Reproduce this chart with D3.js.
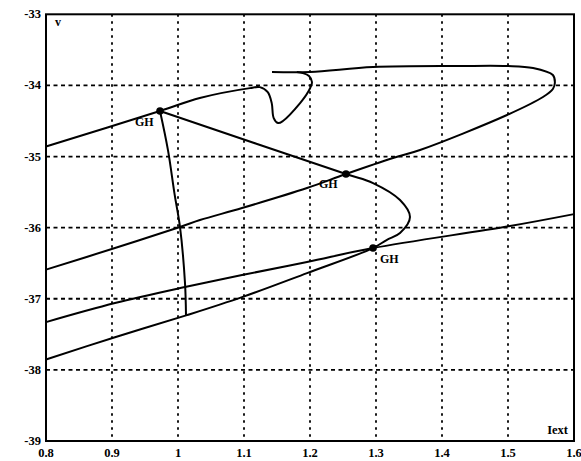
<!DOCTYPE html>
<html>
<head>
<meta charset="utf-8">
<script src="https://cdn.jsdelivr.net/npm/d3@7"></script>
<style>
  body { margin: 0; background: #fff; }
  svg text { font-family: "Liberation Serif", "DejaVu Serif", serif; font-weight: bold; fill: #000; }
</style>
</head>
<body>
<svg id="chart" width="581" height="461"></svg>
<script>
// axis ticks
const xTicks = [0.8, 0.9, 1, 1.1, 1.2, 1.3, 1.4, 1.5, 1.6];
const yTicks = [-33, -34, -35, -36, -37, -38, -39];

// branch through the left GH point, ending in the S-shaped curl
const branchS = [[0.8, -34.86], [0.9727, -34.36], [1.033, -34.177], [1.109, -34.038], [1.124, -34.024],
  [1.136, -34.094], [1.142, -34.249], [1.145, -34.46], [1.1515, -34.529], [1.159, -34.50],
  [1.185, -34.249], [1.197, -34.094], [1.203, -33.953], [1.1985, -33.868], [1.189, -33.826], [1.18, -33.812]];

// upper loop: top line, tip near 1.57, back down to the left edge
const branchTop = [[1.1424, -33.812], [1.2, -33.812], [1.2955, -33.742], [1.427, -33.727], [1.4985, -33.727],
  [1.5379, -33.755], [1.568, -33.854], [1.571, -33.966], [1.568, -34.05], [1.553, -34.163],
  [1.4985, -34.416], [1.3667, -34.908], [1.3258, -35.021], [1.2545, -35.246], [1.1955, -35.443],
  [1.097, -35.724], [1.0333, -35.893], [1.003, -35.99], [0.9045, -36.286], [0.8, -36.59]];

// GH -> GH -> nose -> GH -> left edge
const branchNose = [[0.9727, -34.36], [1.2545, -35.246], [1.2955, -35.373], [1.3364, -35.612],
  [1.3515, -35.851], [1.3364, -36.076], [1.316, -36.174], [1.2955, -36.287], [1.1955, -36.639],
  [1.097, -36.977], [1.0136, -37.23], [0.9045, -37.54], [0.8, -37.855]];

// long lower line through the right GH point
const branchLow = [[0.8, -37.328], [0.9045, -37.06], [1.0106, -36.835], [1.097, -36.666],
  [1.1955, -36.483], [1.2955, -36.287], [1.503, -35.977], [1.6, -35.81]];

// near vertical branch down from the left GH point
const branchVert = [[0.9727, -34.36], [0.9848, -34.91], [0.995, -35.54], [1.003, -35.99],
  [1.0106, -36.78], [1.0121, -37.23]];

const ghPoints = [[0.9727, -34.36], [1.2545, -35.246], [1.2955, -36.287]];
const ghLabelOffsets = [[-25, 15], [-27, 14], [7, 15]];

const svg = d3.select("#chart");
const m = { left: 46, right: 574, top: 14.3, bottom: 441 };

const x = d3.scaleLinear().domain([0.8, 1.6]).range([m.left, m.right]);
const y = d3.scaleLinear().domain([-39, -33]).range([m.bottom, m.top]);

// dotted grid
svg.append("g")
  .selectAll("line")
  .data(xTicks.slice(1, -1))
  .join("line")
  .attr("x1", d => x(d)).attr("x2", d => x(d))
  .attr("y1", m.top).attr("y2", m.bottom)
  .attr("stroke", "#000")
  .attr("stroke-width", 1.8)
  .attr("stroke-dasharray", "2.5,4.5");

svg.append("g")
  .selectAll("line")
  .data(yTicks.slice(1, -1))
  .join("line")
  .attr("x1", m.left).attr("x2", m.right)
  .attr("y1", d => y(d)).attr("y2", d => y(d))
  .attr("stroke", "#000")
  .attr("stroke-width", 1.8)
  .attr("stroke-dasharray", "4,3.5");

// tick labels
svg.append("g")
  .selectAll("text")
  .data(yTicks)
  .join("text")
  .attr("x", m.left - 5)
  .attr("y", d => y(d) + 4)
  .attr("text-anchor", "end")
  .attr("font-size", "12.5px")
  .text(d => d);

svg.append("g")
  .selectAll("text")
  .data(xTicks)
  .join("text")
  .attr("x", d => x(d))
  .attr("y", m.bottom + 16)
  .attr("text-anchor", "middle")
  .attr("font-size", "12.5px")
  .text(d => d);

// curves
const line = d3.line()
  .x(d => x(d[0]))
  .y(d => y(d[1]))
  .curve(d3.curveCatmullRom.alpha(0.5));

svg.append("g")
  .selectAll("path")
  .data([branchS, branchTop, branchNose, branchLow, branchVert])
  .join("path")
  .attr("d", line)
  .attr("fill", "none")
  .attr("stroke", "#000")
  .attr("stroke-width", 2);

svg.append("g")
  .selectAll("circle")
  .data(ghPoints)
  .join("circle")
  .attr("cx", d => x(d[0]))
  .attr("cy", d => y(d[1]))
  .attr("r", 3.8)
  .attr("fill", "#000");

svg.append("g")
  .selectAll("text")
  .data(ghPoints)
  .join("text")
  .attr("x", (d, i) => x(d[0]) + ghLabelOffsets[i][0])
  .attr("y", (d, i) => y(d[1]) + ghLabelOffsets[i][1])
  .attr("font-size", "12px")
  .text("GH");

// frame
svg.append("rect")
  .attr("x", m.left).attr("y", m.top)
  .attr("width", m.right - m.left).attr("height", m.bottom - m.top)
  .attr("fill", "none")
  .attr("stroke", "#000")
  .attr("stroke-width", 2);

svg.append("text")
  .attr("x", m.left + 9).attr("y", m.top + 12)
  .attr("font-size", "12px")
  .text("v");

svg.append("text")
  .attr("x", m.right - 6).attr("y", m.bottom - 7)
  .attr("text-anchor", "end")
  .attr("font-size", "12.5px")
  .text("Iext");
</script>
</body>
</html>
